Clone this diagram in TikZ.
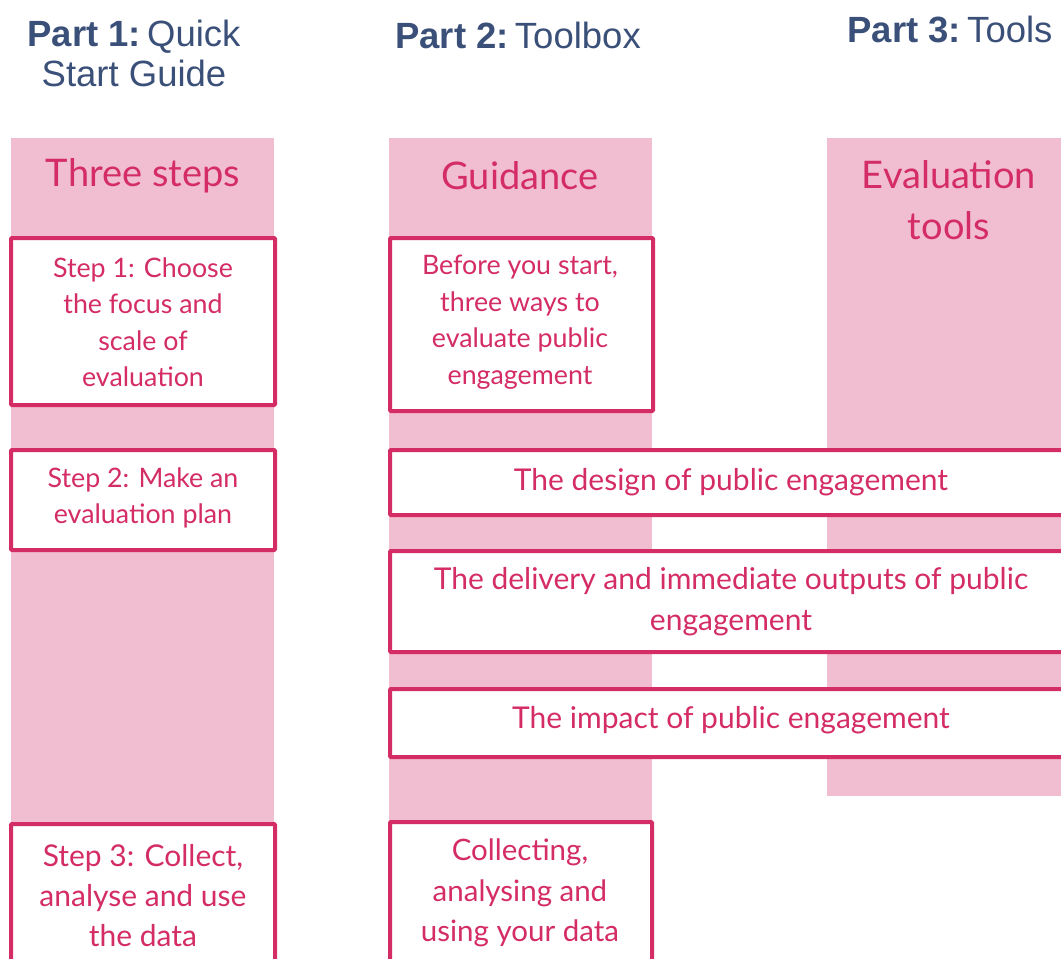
\documentclass[tikz,border=0pt]{standalone}
\usepackage{fontspec}
\setmainfont{Lato}
\newfontfamily\titlefont{Liberation Sans}
\definecolor{pinkfill}{HTML}{F1BDD0}
\definecolor{crim}{HTML}{D42C65}
\definecolor{titleblue}{HTML}{3B5078}
\begin{document}
\begin{tikzpicture}[x=1pt,y=-1pt,
  col/.style={fill=pinkfill,draw=none},
  wbox/.style={draw=crim,line width=4pt,fill=white,rounded corners=1pt},
  txt/.style={text=crim,align=center,font=\fontsize{26.8}{36.5}\selectfont,inner sep=0pt},
  bigtxt/.style={txt,font=\fontsize{30}{41}\selectfont},
  head/.style={text=crim,align=center,font=\fontsize{38}{51}\selectfont,inner sep=0pt},
  ttl/.style={text=titleblue,align=center,font=\titlefont\fontsize{36.5}{40}\selectfont,inner sep=0pt}]
\useasboundingbox (0,0) rectangle (1061,959);
\clip (0,0) rectangle (1061,959);
% pink columns
\path[col] (11,138) rectangle (274,970);
\path[col] (389,138) rectangle (652,970);
\path[col] (827,138) rectangle (1070,796);
% titles
\node[ttl] (t1) at (134,53) {\textbf{Part 1:}\,Quick\\Start Guide};
\node[ttl] (t2) at (518,35) {\textbf{Part 2:}\,Toolbox};
\node[ttl] (t3) at (950,29) {\textbf{Part 3:}\,Tools};
% column heads
\node[head] (h1) at (143,176) {Three steps};
\node[head] (h2) at (520,176) {Guidance};
\node[head] (h3) at (949,200) {Evaluation\\tools};
% boxes
\draw[wbox] (11,238) rectangle (275,405);
\node[txt] (s1) at (143,322) {Step 1: Choose\\the focus and\\scale of\\evaluation};
\draw[wbox] (11,450) rectangle (275,550);
\node[txt] (s2) at (143,498) {Step 2: Make an\\evaluation plan};
\draw[wbox] (11,824) rectangle (275,1000);
\node[bigtxt,font=\fontsize{30}{40}\selectfont] (s3) at (143,896) {Step 3: Collect,\\analyse and use\\the data};
\draw[wbox] (390,238) rectangle (653,411);
\node[txt] (g1) at (520,322) {Before you start,\\three ways to\\evaluate public\\engagement};
\draw[wbox] (390,450) rectangle (1072,515);
\node[bigtxt] (g2) at (731,482) {The design of public engagement};
\draw[wbox] (390,551) rectangle (1072,652);
\node[bigtxt] (g3) at (731,602) {The delivery and immediate outputs of public\\engagement};
\draw[wbox] (390,689) rectangle (1072,757);
\node[bigtxt] (g4) at (731,720) {The impact of public engagement};
\draw[wbox] (390,822) rectangle (652,1000);
\node[bigtxt,font=\fontsize{29.5}{40.5}\selectfont] (g5) at (520,893) {Collecting,\\analysing and\\using your data};
\end{tikzpicture}
\end{document}
